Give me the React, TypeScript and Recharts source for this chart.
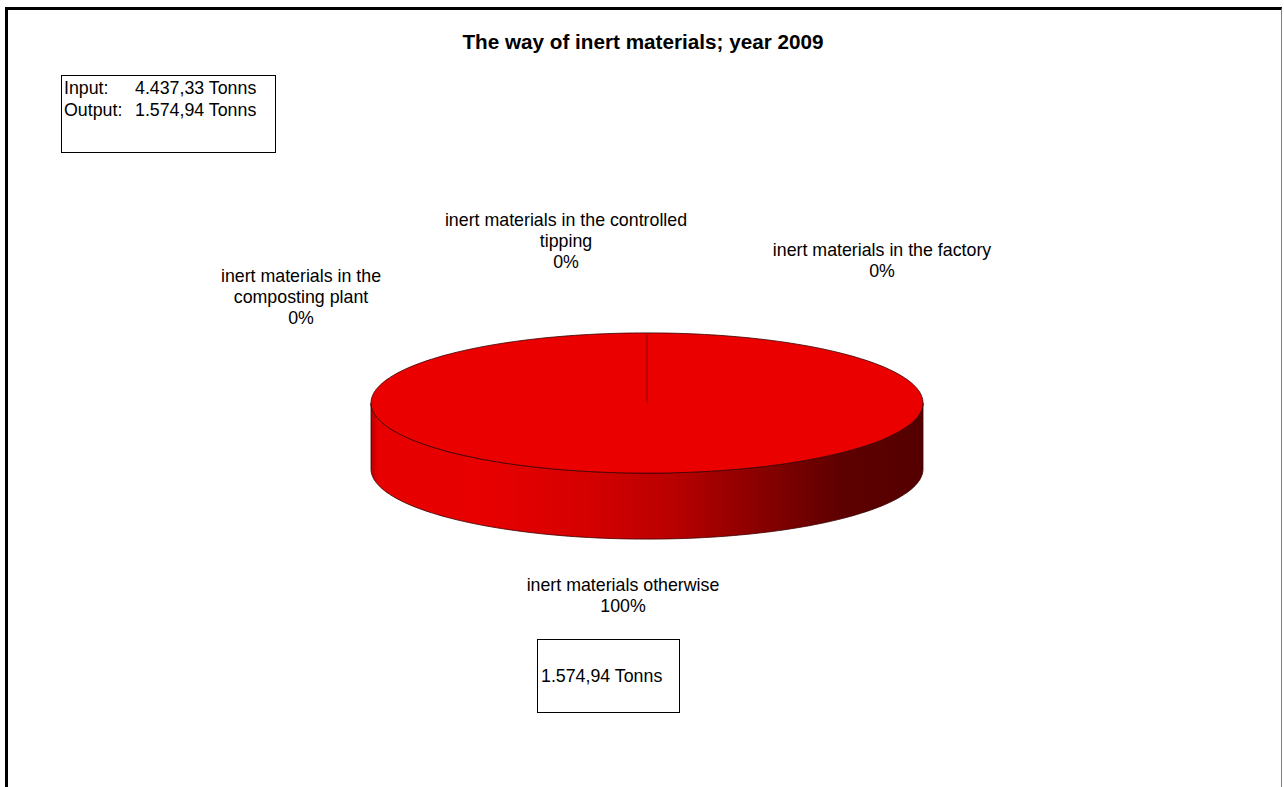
import React from "react";
import { PieChart, Pie } from "recharts";

// slices of the pie (tons, year 2009)
const categories = [
  "inert materials in the composting plant",
  "inert materials in the controlled tipping",
  "inert materials in the factory",
  "inert materials otherwise",
];
const tonnes = [0, 0, 0, 1574.94];
const labelLines = [
  ["inert materials in the", "composting plant"],
  ["inert materials in the controlled", "tipping"],
  ["inert materials in the factory"],
  ["inert materials otherwise"],
];
const inputTonnes = 4437.33;

// label placement relative to the pie centre (moved by hand in the original)
const labelOffsets = [
  [-346, -127],
  [-81, -183],
  [235, -153],
  [-24, 182],
];

const FONT = "Arial, 'Liberation Sans', sans-serif";
const TILT = 0.254; // vertical squash of the pie
const DEPTH = 66; // thickness of the pie
const RAD = Math.PI / 180;

const fmt = (v: number) => {
  const [i, d] = v.toFixed(2).split(".");
  return i.replace(/\B(?=(\d{3})+(?!\d))/g, ".") + "," + d;
};

const data = categories.map((name, i) => ({ name, value: tonnes[i] }));
const outputTonnes = tonnes.reduce((a, b) => a + b, 0);

const pt = (cx: number, cy: number, r: number, deg: number, dy = 0) => [
  cx + r * Math.cos(deg * RAD),
  cy - r * TILT * Math.sin(deg * RAD) + dy,
];

const arc = (cx: number, cy: number, r: number, from: number, to: number, dy = 0) => {
  const steps = Math.max(2, Math.ceil(Math.abs(to - from) / 1.5));
  const out: string[] = [];
  for (let i = 0; i <= steps; i++) {
    const [x, y] = pt(cx, cy, r, from + ((to - from) * i) / steps, dy);
    out.push(`${x.toFixed(2)},${y.toFixed(2)}`);
  }
  return out;
};

const Sector3D = (props: any) => {
  const { cx, cy, outerRadius: r, startAngle, endAngle, index } = props;
  const lo = Math.min(startAngle, endAngle);
  const hi = Math.max(startAngle, endAngle);
  const gid = `wall-grad-${index}`;

  // front side of the wall: angles where the ellipse is below its centre
  const walls: string[] = [];
  for (const k of [-720, -360, 0, 360]) {
    const a = Math.max(lo, -180 + k);
    const b = Math.min(hi, k);
    if (b - a > 0.01) {
      const top = arc(cx, cy, r, a, b);
      const bottom = arc(cx, cy, r, b, a, DEPTH);
      walls.push("M" + top.join(" L") + " L" + bottom.join(" L") + " Z");
    }
  }

  const [sx, sy] = pt(cx, cy, r, startAngle);
  const hasFace = hi - lo > 0.01;

  return (
    <g>
      <defs>
        <linearGradient id={gid} gradientUnits="userSpaceOnUse" x1={cx - r} y1={0} x2={cx + r} y2={0}>
          <stop offset="0" stopColor="#b80000" />
          <stop offset="0.012" stopColor="#e60000" />
          <stop offset="0.2" stopColor="#e80000" />
          <stop offset="0.4" stopColor="#d40000" />
          <stop offset="0.55" stopColor="#b80000" />
          <stop offset="0.7" stopColor="#8a0000" />
          <stop offset="0.85" stopColor="#5e0000" />
          <stop offset="1" stopColor="#540000" />
        </linearGradient>
      </defs>
      {walls.map((d, i) => (
        <path key={i} d={d} fill={`url(#${gid})`} stroke="#3a0000" strokeWidth={0.8} />
      ))}
      {hasFace && (
        <path
          d={`M${cx},${cy} L${arc(cx, cy, r, startAngle, endAngle).join(" L")} Z`}
          fill="#eb0000"
          stroke="none"
        />
      )}
      {hasFace && (
        <polyline
          points={arc(cx, cy, r, startAngle, endAngle).join(" ")}
          fill="none"
          stroke="#3a0000"
          strokeWidth={0.8}
        />
      )}
      <line x1={cx} y1={cy} x2={sx} y2={sy} stroke="#a00000" strokeWidth={1.2} />
    </g>
  );
};

const renderLabel = (p: any) => {
  const i = p.index;
  const [dx, dy] = labelOffsets[i];
  const x = p.cx + dx;
  const lines = [...labelLines[i], `${Math.round(p.percent * 100)}%`];
  return (
    <text
      key={`lbl-${i}`}
      x={x}
      y={p.cy + dy}
      textAnchor="middle"
      dominantBaseline="central"
      fill="#000"
      fontFamily={FONT}
      fontSize={17.8}
    >
      {lines.map((l, j) => (
        <tspan key={j} x={x} dy={j === 0 ? 0 : 21}>
          {l}
        </tspan>
      ))}
    </text>
  );
};

export default function App() {
  return (
    <div
      style={{
        position: "absolute",
        left: 0,
        top: 0,
        width: 1284,
        height: 787,
        overflow: "hidden",
        background: "#fff",
        fontFamily: FONT,
      }}
    >
      {/* chart frame */}
      <div
        style={{
          position: "absolute",
          left: 5,
          top: 7,
          width: 1277,
          height: 800,
          boxSizing: "border-box",
          borderLeft: "3px solid #000",
          borderTop: "3px solid #000",
          borderRight: "1px solid #808080",
        }}
      />
      <div
        style={{
          position: "absolute",
          left: 0,
          top: 30,
          width: 1286,
          textAlign: "center",
          fontWeight: "bold",
          fontSize: 20.7,
          lineHeight: "24px",
        }}
      >
        The way of inert materials; year 2009
      </div>

      <div style={{ position: "absolute", left: 0, top: 0 }}>
        <PieChart width={1284} height={787} margin={{ top: 0, right: 0, bottom: 0, left: 0 }}>
          <Pie
            data={data}
            dataKey="value"
            nameKey="name"
            cx={647}
            cy={403}
            outerRadius={276}
            startAngle={90}
            endAngle={-270}
            shape={Sector3D}
            label={renderLabel}
            labelLine={false}
            isAnimationActive={false}
          />
        </PieChart>
      </div>

      {/* input / output box */}
      <div
        style={{
          position: "absolute",
          left: 61,
          top: 75,
          width: 215,
          height: 78,
          boxSizing: "border-box",
          border: "1px solid #000",
          fontSize: 17.8,
          lineHeight: "22px",
          paddingTop: 1,
          paddingLeft: 2,
        }}
      >
        <div style={{ display: "flex" }}>
          <span style={{ width: 71 }}>Input:</span>
          <span>{fmt(inputTonnes)} Tonns</span>
        </div>
        <div style={{ display: "flex" }}>
          <span style={{ width: 71 }}>Output:</span>
          <span>{fmt(outputTonnes)} Tonns</span>
        </div>
      </div>

      {/* tons of the main slice */}
      <div
        style={{
          position: "absolute",
          left: 537,
          top: 639,
          width: 143,
          height: 74,
          boxSizing: "border-box",
          border: "1px solid #000",
          fontSize: 17.8,
          display: "flex",
          alignItems: "center",
          paddingLeft: 3,
        }}
      >
        {fmt(tonnes[3])} Tonns
      </div>
    </div>
  );
}
